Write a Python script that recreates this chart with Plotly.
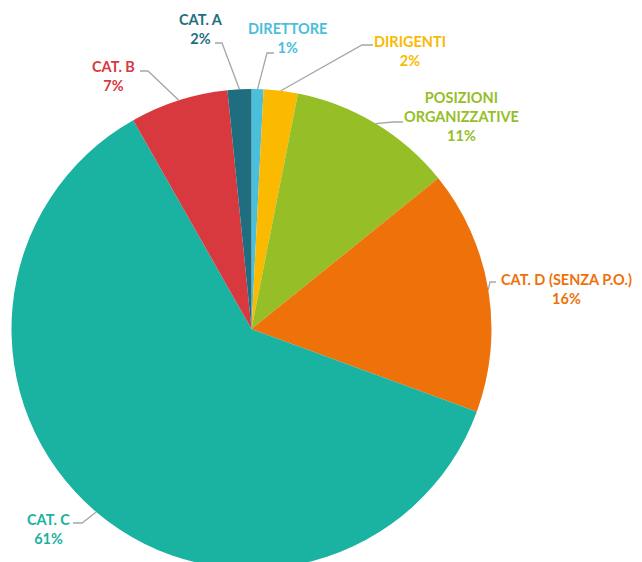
import math
import plotly.graph_objects as go

labels = ["DIRETTORE", "DIRIGENTI", "POSIZIONI<br>ORGANIZZATIVE", "CAT. D (SENZA P.O.)",
          "CAT. C", "CAT. B", "CAT. A"]
values = [0.8, 2.3, 11.1, 16.4, 61.2, 6.6, 1.6]
colors = ["#4BBEDA", "#FBB900", "#95BE27", "#EE7109", "#1AB2A0", "#D7393F", "#1F6E7F"]

OFF = 8  # page body margin
W, H = 642, 562
# pie geometry (page pixels)
cx, cy, R = 251.5, 329, 240

def px(x):
    return (x - OFF) / W

def py(y):
    return 1 - (y - OFF) / H

# label block centres (page pixels)
label_pos = [(287, 37.5), (410, 51), (461, 117), (566, 288.5), (49, 528.5), (113, 76), (201, 29.5)]
# leader line: label end point and elbow (page pixels)
leader = [((274, 53), (267, 53)), ((373, 45), (362, 45)), ((403, 122), (393, 122)),
          ((496, 282), (490, 282)), ((73, 523), (82, 523)), ((140, 71), (148, 71)),
          ((215, 43), (222, 43))]

fig = go.Figure(go.Pie(
    labels=labels, values=values, sort=False, direction="clockwise", rotation=0,
    marker=dict(colors=colors, line=dict(width=0)),
    textinfo="none", hoverinfo="label+percent", showlegend=False,
    domain=dict(x=[px(cx - R), px(cx + R)], y=[max(0, py(cy + R)), py(cy - R)]),
))

total = sum(values)
cum = 0
shapes, annotations = [], []
for lab, v, col, (lx, ly), (p0, p1) in zip(labels, values, colors, label_pos, leader):
    mid = (cum + v / 2) / total * 2 * math.pi
    cum += v
    ax = cx + R * math.sin(mid)
    ay = cy - R * math.cos(mid)
    path = f"M {px(p0[0])} {py(p0[1])} L {px(p1[0])} {py(p1[1])} L {px(ax)} {py(ay)}"
    shapes.append(dict(type="path", xref="paper", yref="paper", path=path,
                       line=dict(color="#A6A6A6", width=1.3)))
    pct = round(v / total * 100)
    annotations.append(dict(x=px(lx), y=py(ly), xref="paper", yref="paper",
                            text=f"{lab}<br>{pct}%", showarrow=False,
                            xanchor="center", yanchor="middle", align="center",
                            font=dict(family="Lato", size=14.5, color=col, weight="bold")))

fig.update_layout(width=W, height=H, margin=dict(l=0, r=0, t=0, b=0),
                  paper_bgcolor="white", plot_bgcolor="white",
                  shapes=shapes, annotations=annotations)
fig.write_html("out.html")
